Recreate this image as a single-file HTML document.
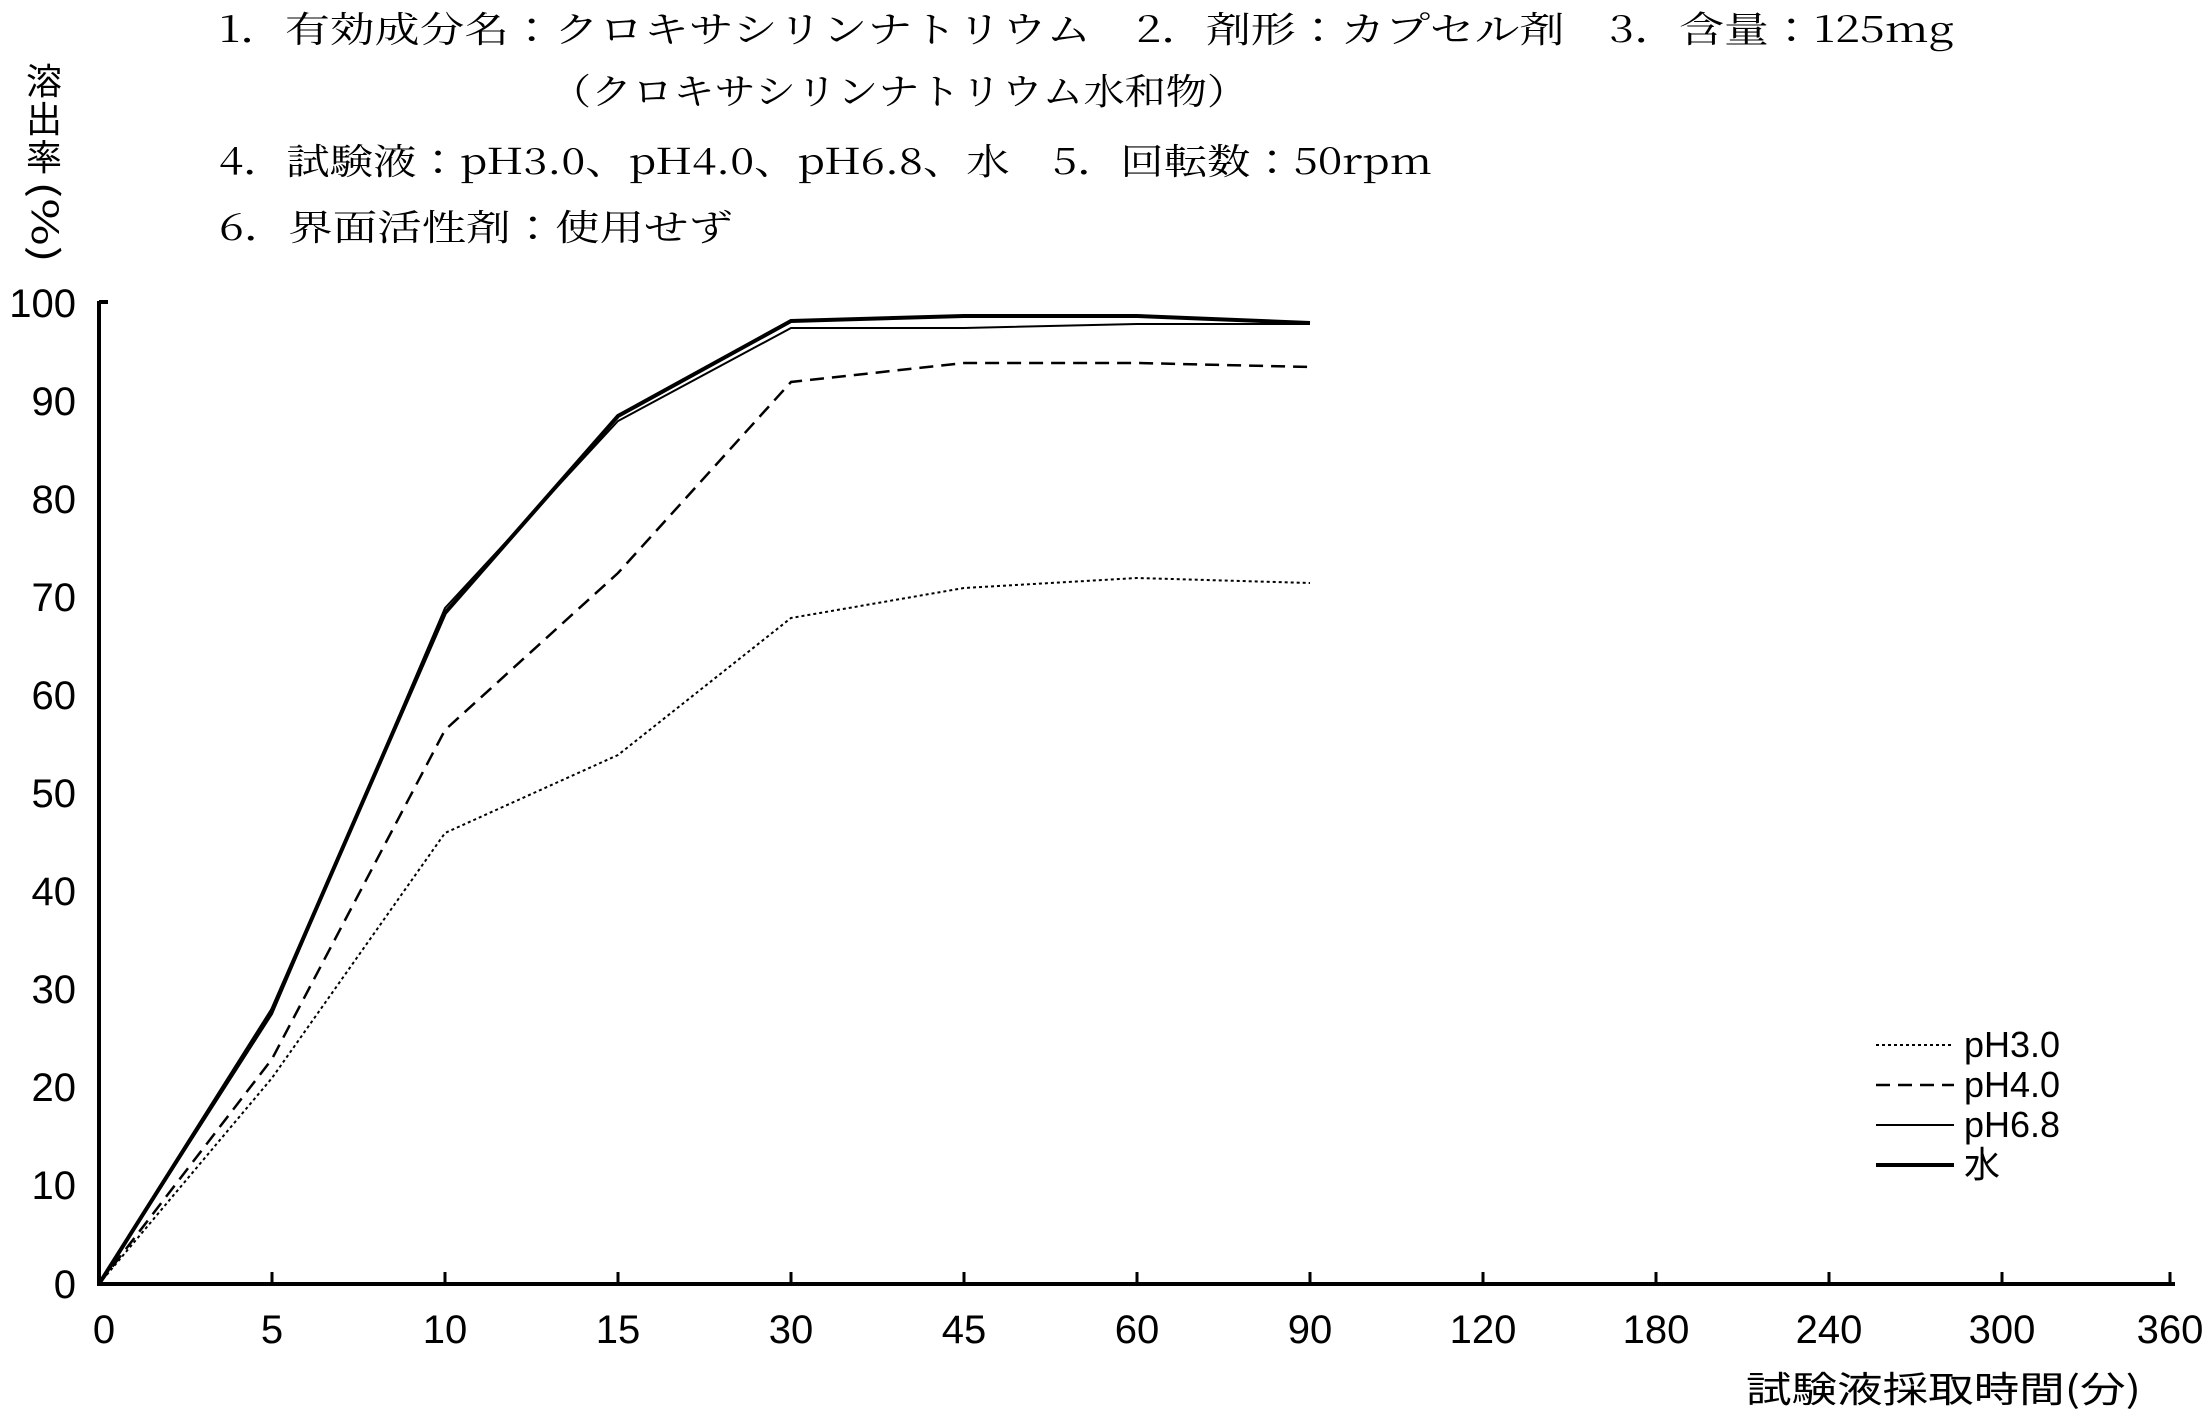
<!DOCTYPE html>
<html><head><meta charset="utf-8"><style>
html,body{margin:0;padding:0;background:#fff;}
svg{display:block;}
.t{font-family:"Noto Serif CJK JP","Noto Serif CJK SC","Liberation Serif",serif;font-size:36px;fill:#000;}
.n{font-family:"Liberation Sans","Noto Sans CJK JP",sans-serif;font-size:40px;fill:#000;}
</style></head><body>
<svg width="2212" height="1417" viewBox="0 0 2212 1417" xmlns="http://www.w3.org/2000/svg">
<rect width="2212" height="1417" fill="#fff"/>
<text class="t" x="219" y="42" textLength="1735" lengthAdjust="spacingAndGlyphs">1．有効成分名：クロキサシリンナトリウム　2．剤形：カプセル剤　3．含量：125mg</text>
<text class="t" x="550" y="104" textLength="698" lengthAdjust="spacingAndGlyphs">（クロキサシリンナトリウム水和物）</text>
<text class="t" x="219" y="174" textLength="1213" lengthAdjust="spacingAndGlyphs">4．試験液：pH3.0、pH4.0、pH6.8、水　5．回転数：50rpm</text>
<text class="t" x="219" y="240" textLength="514" lengthAdjust="spacingAndGlyphs">6．界面活性剤：使用せず</text>
<g class="t" text-anchor="middle" style="font-family:'Noto Sans CJK JP',sans-serif;font-size:36px">
<text x="44" y="94">溶</text><text x="44" y="132">出</text><text x="44" y="170">率</text>
<text x="44" y="234" transform="rotate(90 44 222)" textLength="82" lengthAdjust="spacingAndGlyphs">(%)</text>
</g>
<g stroke="#000" stroke-width="4" fill="none">
<line x1="99" y1="301" x2="99" y2="1286"/>
<line x1="97" y1="1284" x2="2175" y2="1284"/>
<line x1="99" y1="302" x2="108" y2="302"/>
</g>
<g stroke="#000" stroke-width="3">
<line x1="272" y1="1284" x2="272" y2="1272"/><line x1="445" y1="1284" x2="445" y2="1272"/>
<line x1="618" y1="1284" x2="618" y2="1272"/><line x1="791" y1="1284" x2="791" y2="1272"/>
<line x1="964" y1="1284" x2="964" y2="1272"/><line x1="1137" y1="1284" x2="1137" y2="1272"/>
<line x1="1310" y1="1284" x2="1310" y2="1272"/><line x1="1483" y1="1284" x2="1483" y2="1272"/>
<line x1="1656" y1="1284" x2="1656" y2="1272"/><line x1="1829" y1="1284" x2="1829" y2="1272"/>
<line x1="2002" y1="1284" x2="2002" y2="1272"/><line x1="2170" y1="1284" x2="2170" y2="1272"/>
</g>
<g class="n" text-anchor="end">
<text x="76" y="317">100</text><text x="76" y="415">90</text><text x="76" y="513">80</text>
<text x="76" y="611">70</text><text x="76" y="709">60</text><text x="76" y="807">50</text>
<text x="76" y="905">40</text><text x="76" y="1003">30</text><text x="76" y="1101">20</text>
<text x="76" y="1199">10</text><text x="76" y="1298">0</text>
</g>
<g class="n" text-anchor="middle">
<text x="104" y="1343">0</text><text x="272" y="1343">5</text><text x="445" y="1343">10</text>
<text x="618" y="1343">15</text><text x="791" y="1343">30</text><text x="964" y="1343">45</text>
<text x="1137" y="1343">60</text><text x="1310" y="1343">90</text><text x="1483" y="1343">120</text>
<text x="1656" y="1343">180</text><text x="1829" y="1343">240</text><text x="2002" y="1343">300</text>
<text x="2170" y="1343">360</text>
</g>
<text class="t" x="1746" y="1402" textLength="395" lengthAdjust="spacingAndGlyphs" style="font-family:'Noto Sans CJK JP',sans-serif">試験液採取時間(分)</text>
<g fill="none" stroke="#000">
<polyline stroke-width="2" stroke-dasharray="3,3" points="99,1284 272,1078 445,833 618,755 791,618 964,588 1137,578 1310,583"/>
<polyline stroke-width="2.5" stroke-dasharray="14,8" points="99,1284 272,1059 445,730 618,573 791,382 964,363 1137,363 1310,367"/>
<polyline stroke-width="2" points="99,1284 272,1014 445,608 618,421 791,328 964,328 1137,324 1310,324"/>
<polyline stroke-width="4" points="99,1284 272,1010 445,613 618,416 791,321 964,316 1137,316 1310,323"/>
<line stroke-width="2" stroke-dasharray="3,3" x1="1876" y1="1045" x2="1954" y2="1045"/>
<line stroke-width="2.5" stroke-dasharray="14,8" x1="1876" y1="1085" x2="1954" y2="1085"/>
<line stroke-width="2" x1="1876" y1="1125" x2="1954" y2="1125"/>
<line stroke-width="4" x1="1876" y1="1165" x2="1954" y2="1165"/>
</g>
<g class="n" style="font-size:36px">
<text x="1964" y="1057">pH3.0</text><text x="1964" y="1097">pH4.0</text>
<text x="1964" y="1137">pH6.8</text><text x="1964" y="1177">水</text>
</g>
</svg>
</body></html>
